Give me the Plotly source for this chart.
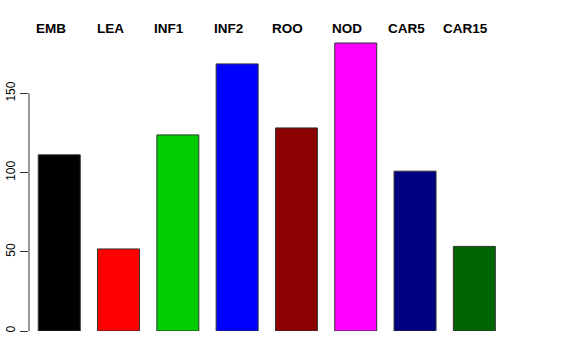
import plotly.graph_objects as go

categories = ["EMB", "LEA", "INF1", "INF2", "ROO", "NOD", "CAR5", "CAR15"]
values = [111.2, 51.8, 123.8, 168.6, 128.2, 181.8, 100.9, 53.4]
colors = ["#000000", "#FF0000", "#00CD00", "#0000FF", "#8B0000", "#FF00FF", "#000080", "#006400"]
tick_vals = [0, 50, 100, 150]
tick_text = ["0", "50", "100", "150"]

fig = go.Figure()
fig.add_trace(go.Bar(
    x=categories, y=values,
    marker=dict(color=colors, line=dict(color="#333333", width=1)),
    showlegend=False, hoverinfo="skip",
))

for c in categories:
    fig.add_annotation(x=c, y=1, xref="x", yref="paper", text="<b>%s</b>" % c,
                       showarrow=False, xanchor="center", yanchor="middle",
                       yshift=11.7, xshift=-8.5,
                       font=dict(family="Liberation Sans, Arial, sans-serif", size=13.5, color="black"))

# R-style y axis line spanning first to last tick
fig.add_shape(type="line", xref="paper", yref="y", x0=0, x1=0,
              y0=min(tick_vals), y1=max(tick_vals), line=dict(color="#333333", width=1))

fig.update_layout(
    width=576, height=360,
    margin=dict(l=29, r=72, t=40, b=28.5, pad=0, autoexpand=False),
    paper_bgcolor="white", plot_bgcolor="white",
    bargap=0.292,
    font=dict(family="Liberation Sans, Arial, sans-serif", size=12, color="black"),
    xaxis=dict(range=[-0.51, 7.5], showticklabels=False, ticks="", showgrid=False,
               zeroline=False, showline=False, automargin=False),
    yaxis=dict(range=[0, 183.7], tickmode="array", tickvals=tick_vals, ticktext=tick_text,
               ticks="outside", ticklen=8, tickcolor="#333333", tickwidth=1,
               tickangle=-90, showgrid=False, zeroline=False, showline=False,
               automargin=False, tickfont=dict(size=12, color="black")),
)

fig.write_html("out.html", post_script="document.body.style.margin='0';",
               config={"displayModeBar": False, "staticPlot": True})
